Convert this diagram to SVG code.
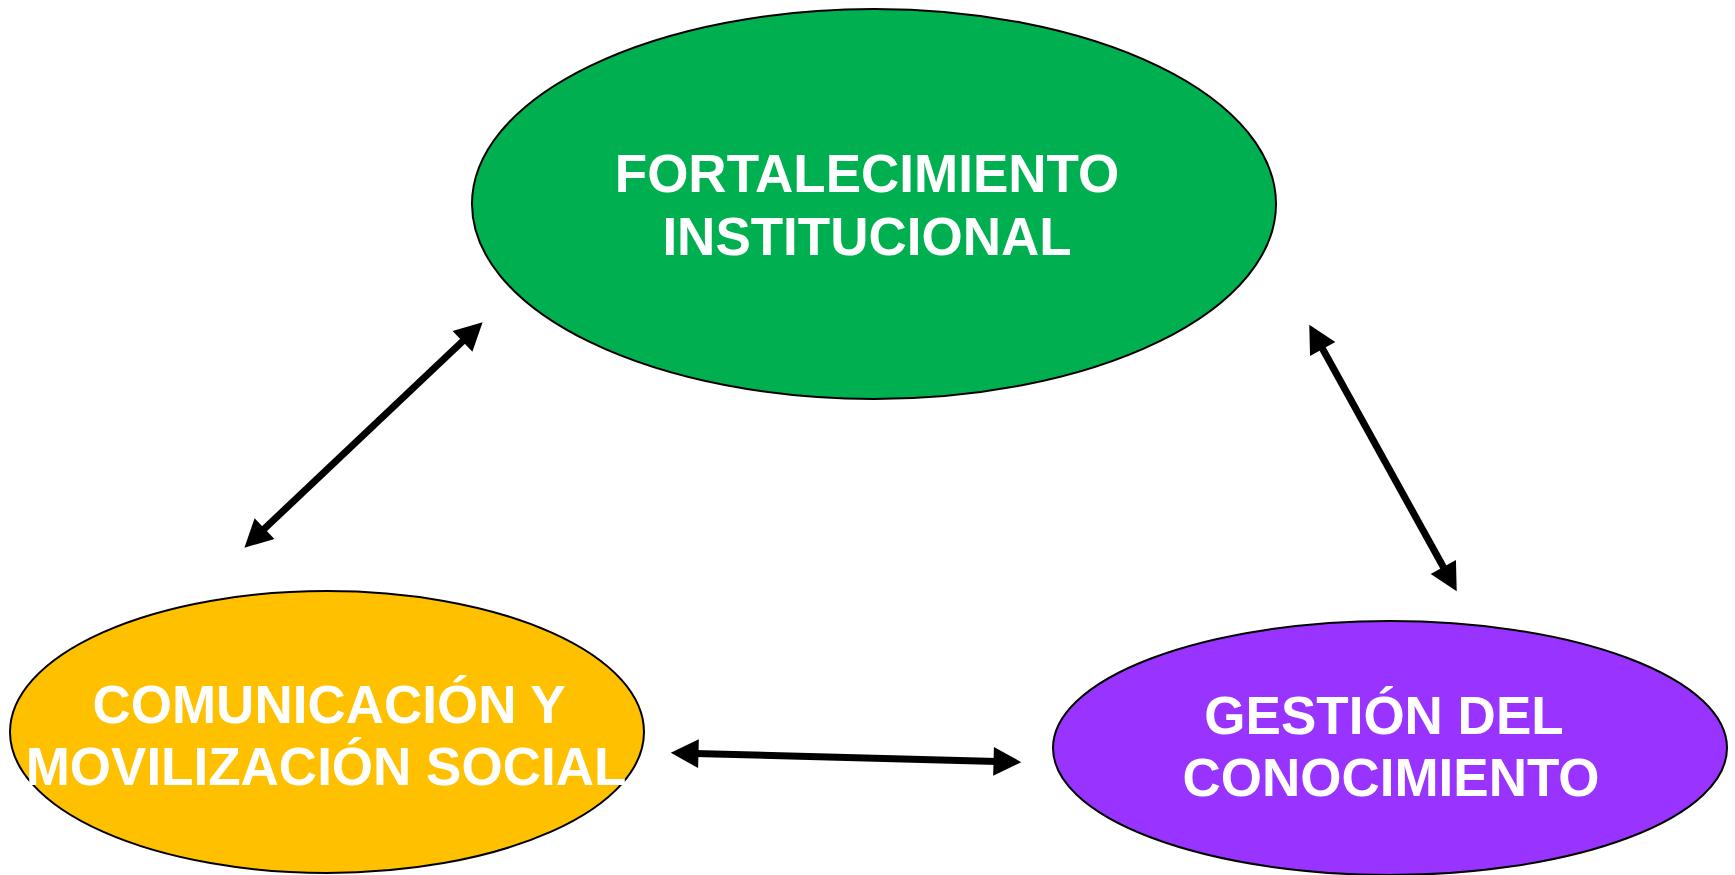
<svg xmlns="http://www.w3.org/2000/svg" width="1735" height="875" viewBox="0 0 1735 875">
<style>
.node ellipse{stroke:#000;stroke-width:2}
.lbl{font-family:"Liberation Sans",Arial,sans-serif;font-weight:bold;font-size:53px;fill:#fff;text-anchor:middle}
.conn{stroke:#000;stroke-width:7;fill:none;marker-start:url(#ah);marker-end:url(#ah)}
</style>
<defs>
<marker id="ah" markerUnits="userSpaceOnUse" markerWidth="30" markerHeight="30" refX="3" refY="0" viewBox="0 -13 24 26" orient="auto-start-reverse" overflow="visible">
<path d="M0,-12.5 L24,0 L0,12.5 Z" fill="#000"/>
</marker>
</defs>
<rect width="1735" height="875" fill="#fff"/>
<g id="fortalecimiento" class="node">
<ellipse cx="874" cy="204" rx="402" ry="195" fill="#00B050"/>
<text class="lbl" x="867" y="192">FORTALECIMIENTO</text>
<text class="lbl" x="867" y="255">INSTITUCIONAL</text>
</g>
<g id="comunicacion" class="node">
<ellipse cx="327" cy="732" rx="317" ry="141" fill="#FFC000"/>
<text class="lbl" x="329" y="723">COMUNICACIÓN Y</text>
<text class="lbl" x="326" y="785">MOVILIZACIÓN SOCIAL</text>
</g>
<g id="gestion" class="node">
<ellipse cx="1390" cy="748" rx="337" ry="127" fill="#9933FF"/>
<text class="lbl" x="1384" y="734">GESTIÓN DEL</text>
<text class="lbl" x="1391" y="796">CONOCIMIENTO</text>
</g>
<g id="connectors">
<line class="conn" x1="262" y1="531" x2="465" y2="339"/>
<line class="conn" x1="1321" y1="346" x2="1445" y2="570"/>
<line class="conn" x1="695" y1="753.5" x2="997" y2="761.5"/>
</g>
</svg>
